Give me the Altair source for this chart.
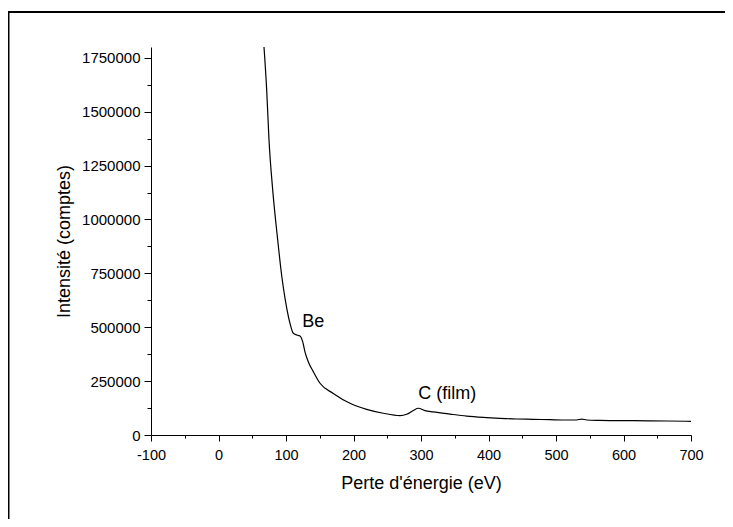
import altair as alt
import pandas as pd

# ---- data ----
energy_ev = [67.4, 71.4, 74.8, 80.3, 87.7, 93.6, 98.5, 105.9, 110.8, 115.9,
             120.7, 124.7, 128.1, 133.0, 140.4, 150.4, 170.0, 194.8, 219.5, 244.0,
             268.9, 278.8, 288.6, 296.0, 306.0, 318.0, 343.0, 367.7, 392.0, 417.0,
             441.8, 466.4, 491.0, 515.8, 530.6, 538.0, 545.5, 565.0, 614.5, 664.0,
             700.0]
counts = [1800000, 1600000, 1370000, 1137000, 905000, 740000, 635000, 518000, 472000, 464000,
          459000, 433000, 386000, 340000, 294000, 240000, 193000, 147000, 119000, 101000,
          90000, 96000, 114000, 124000, 113000, 107000, 97000, 88000, 82000, 77500,
          74200, 72800, 71000, 69600, 69600, 74000, 69600, 68000, 66300, 64900,
          63500]

x_major = list(range(-100, 701, 100))
x_minor = list(range(-50, 701, 100))
y_major = list(range(0, 1750001, 250000))
y_minor = list(range(125000, 1750001, 250000))

annot_text = ["Be", "C (film)"]
annot_x = [124, 296]
annot_y = [524000, 190000]

FONT = "Liberation Sans"
W, H = 540, 388

df = pd.DataFrame({"e": energy_ev, "c": counts})
ann = pd.DataFrame({"t": annot_text, "x": annot_x, "y": annot_y})

xscale = alt.Scale(domain=[-100, 700], nice=False, zero=False)
yscale = alt.Scale(domain=[0, 1800000], nice=False, zero=False)

common_axis = dict(
    grid=False, domainColor="black", domainWidth=1, tickColor="black", tickWidth=1,
    labelColor="black", labelFont=FONT, titleFont=FONT,
    titleFontSize=18, titleFontWeight="normal", titleColor="black",
    labelOverlap=False, labelFlush=False, ticks=True,
)

xaxis = alt.Axis(
    values=x_major, title="Perte d'énergie (eV)", orient="bottom",
    labelExpr="'' + datum.value", tickSize=6, labelFontSize=14.5,
    labelPadding=7, titlePadding=13, **common_axis,
)
yaxis = alt.Axis(
    values=y_major, title="Intensité (comptes)", orient="left",
    labelExpr="'' + datum.value", tickSize=7, labelFontSize=15,
    labelPadding=4, titlePadding=8, **common_axis,
)
xaxis_minor = alt.Axis(
    values=x_minor, title=None, orient="bottom", labels=False, domain=False,
    grid=False, tickSize=3, tickColor="black", tickWidth=1,
)
yaxis_minor = alt.Axis(
    values=y_minor, title=None, orient="left", labels=False, domain=False,
    grid=False, tickSize=4, tickColor="black", tickWidth=1,
)

line = alt.Chart(df).mark_line(
    color="black", strokeWidth=1.2, clip=True, interpolate="monotone"
).encode(
    x=alt.X("e:Q", scale=xscale, axis=xaxis),
    y=alt.Y("c:Q", scale=yscale, axis=yaxis),
)

labels = alt.Chart(ann).mark_text(
    font=FONT, fontSize=18, align="left", baseline="middle", color="black"
).encode(
    x=alt.X("x:Q", scale=xscale, axis=xaxis_minor),
    y=alt.Y("y:Q", scale=yscale, axis=yaxis_minor),
    text="t:N",
)

# outer frame of the figure (its right and bottom edges fall outside the picture)
frame = alt.Chart(alt.Data(values=[{}])).mark_rect(
    fill="transparent", stroke="black", strokeWidth=2
).encode(
    x=alt.value(-142.5), x2=alt.value(700), y=alt.value(-35), y2=alt.value(600)
)

chart = alt.layer(line, labels, frame).resolve_axis(
    x="independent", y="independent"
).properties(
    width=W, height=H,
    autosize=alt.AutoSizeParams(type="none"),
    padding={"left": 143, "top": 39, "right": 34, "bottom": 84},
).configure_view(stroke=None)

chart.save("out.html", embed_options={"renderer": "svg", "actions": False})
